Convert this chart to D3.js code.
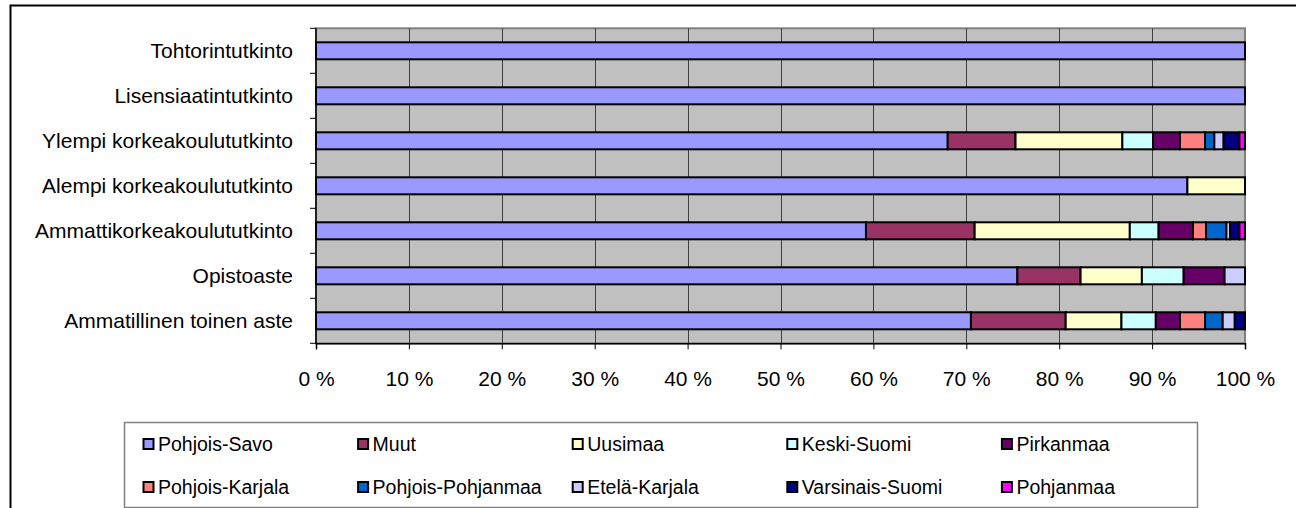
<!DOCTYPE html>
<html>
<head>
<meta charset="utf-8">
<script src="https://cdn.jsdelivr.net/npm/d3@7"></script>
<style>
  body { margin: 0; background: #fff; }
  svg { display: block; font-family: Arial, "Liberation Sans", sans-serif; }
</style>
</head>
<body>
<div id="vis"></div>
<script>
// categories, top to bottom
var categories = [
  'Tohtorintutkinto',
  'Lisensiaatintutkinto',
  'Ylempi korkeakoulututkinto',
  'Alempi korkeakoulututkinto',
  'Ammattikorkeakoulututkinto',
  'Opistoaste',
  'Ammatillinen toinen aste'
];

var seriesNames = ['Pohjois-Savo', 'Muut', 'Uusimaa', 'Keski-Suomi', 'Pirkanmaa',
  'Pohjois-Karjala', 'Pohjois-Pohjanmaa', 'Etelä-Karjala', 'Varsinais-Suomi', 'Pohjanmaa'];

var seriesColors = ['#9999ff', '#993366', '#ffffcc', '#ccffff', '#660066',
  '#ff8080', '#0066cc', '#ccccff', '#000080', '#ff00ff'];

// share (%) per region, same order as seriesNames
var tohtori      = [100, 0, 0, 0, 0, 0, 0, 0, 0, 0];
var lisensiaatti = [100, 0, 0, 0, 0, 0, 0, 0, 0, 0];
var ylempi       = [68.0, 7.3, 11.5, 3.3, 2.9, 2.7, 1.0, 1.0, 1.7, 0.6];
var alempi       = [93.8, 0, 6.2, 0, 0, 0, 0, 0, 0, 0];
var amk          = [59.2, 11.7, 16.7, 3.1, 3.7, 1.4, 2.2, 0.4, 1.0, 0.6];
var opisto       = [75.5, 6.8, 6.6, 4.5, 4.4, 0, 0, 2.2, 0, 0];
var ammatillinen = [70.5, 10.2, 6.0, 3.7, 2.6, 2.7, 1.9, 1.3, 1.1, 0];

var rowValues = [tohtori, lisensiaatti, ylempi, alempi, amk, opisto, ammatillinen];

var xTicks = [0, 10, 20, 30, 40, 50, 60, 70, 80, 90, 100];

var width = 1296;
var height = 508;
var fontSize = 21;
var legendFontSize = 19.5;

var plot = { left: 316, right: 1245, top: 28.3, bottom: 343.3 };

var svg = d3.select('#vis').append('svg')
  .attr('width', width)
  .attr('height', height);

// outer chart frame (runs past the window on the right and bottom)
svg.append('rect')
  .attr('x', 10.5).attr('y', 5.5)
  .attr('width', 1400).attr('height', 600)
  .attr('fill', '#fff')
  .attr('stroke', '#000')
  .attr('stroke-width', 2);

var table = rowValues.map(function (vals, i) {
  var row = { category: categories[i] };
  seriesNames.forEach(function (s, j) { row[s] = vals[j]; });
  return row;
});

var stack = d3.stack()
  .keys(seriesNames)
  .offset(d3.stackOffsetExpand);
var layers = stack(table);

var x = d3.scaleLinear()
  .domain([0, 1])
  .range([plot.left, plot.right]);

var y = d3.scaleBand()
  .domain(categories)
  .range([plot.top, plot.bottom])
  .paddingInner(0.622)
  .paddingOuter(0.311);

var yOuter = d3.scaleBand()
  .domain(categories)
  .range([plot.top, plot.bottom]);

// plot background
svg.append('rect')
  .attr('x', plot.left).attr('y', plot.top)
  .attr('width', plot.right - plot.left)
  .attr('height', plot.bottom - plot.top)
  .attr('fill', '#c0c0c0')
  .attr('stroke', '#808080')
  .attr('stroke-width', 2);

// vertical gridlines
svg.append('g')
  .selectAll('line')
  .data(xTicks.slice(1, -1))
  .enter().append('line')
  .attr('x1', function (d) { return Math.round(x(d / 100)) + 0.5; })
  .attr('x2', function (d) { return Math.round(x(d / 100)) + 0.5; })
  .attr('y1', plot.top)
  .attr('y2', plot.bottom)
  .attr('stroke', '#404040')
  .attr('stroke-width', 1);

// stacked bars
var groups = svg.append('g')
  .selectAll('g')
  .data(layers)
  .enter().append('g')
  .attr('fill', function (d, i) { return seriesColors[i]; });

groups.selectAll('rect')
  .data(function (d) { return d.filter(function (p) { return p[1] - p[0] > 0; }); })
  .enter().append('rect')
  .attr('x', function (d) { return x(d[0]); })
  .attr('width', function (d) { return x(d[1]) - x(d[0]); })
  .attr('y', function (d) { return y(d.data.category); })
  .attr('height', y.bandwidth())
  .attr('stroke', '#000')
  .attr('stroke-width', 2);

// x axis
var xAxis = d3.axisBottom(x)
  .tickValues(xTicks.map(function (d) { return d / 100; }))
  .tickFormat(function (d) { return Math.round(d * 100) + ' %'; })
  .tickSize(6)
  .tickPadding(22);

var gx = svg.append('g')
  .attr('transform', 'translate(0,' + plot.bottom + ')')
  .call(xAxis);
gx.select('.domain').attr('stroke', '#000').attr('stroke-width', 1.5);
gx.selectAll('.tick line').attr('stroke', '#000');
gx.selectAll('text')
  .attr('fill', '#000')
  .style('font-size', fontSize + 'px')
  .style('font-family', 'Arial, "Liberation Sans", sans-serif');

// y axis line and category ticks at band edges
var edges = categories.map(function (c) { return yOuter(c); }).concat([plot.bottom]);
svg.append('line')
  .attr('x1', plot.left).attr('x2', plot.left)
  .attr('y1', plot.top).attr('y2', plot.bottom)
  .attr('stroke', '#000').attr('stroke-width', 1.5);
svg.append('g')
  .selectAll('line')
  .data(edges)
  .enter().append('line')
  .attr('x1', plot.left - 6).attr('x2', plot.left)
  .attr('y1', function (d) { return d; })
  .attr('y2', function (d) { return d; })
  .attr('stroke', '#000');

svg.append('g')
  .selectAll('text')
  .data(categories)
  .enter().append('text')
  .attr('x', 293)
  .attr('y', function (d) { return yOuter(d) + yOuter.bandwidth() / 2 + fontSize * 0.35; })
  .attr('text-anchor', 'end')
  .style('font-size', fontSize + 'px')
  .text(function (d) { return d; });

// legend
var legend = { left: 124, top: 422, right: 1197, bottom: 507, col: 214.6 };
svg.append('rect')
  .attr('x', legend.left + 0.5).attr('y', legend.top + 0.5)
  .attr('width', legend.right - legend.left)
  .attr('height', legend.bottom - legend.top)
  .attr('fill', '#fff')
  .attr('stroke', '#808080')
  .attr('stroke-width', 1.5);

var items = svg.append('g')
  .selectAll('g')
  .data(seriesNames)
  .enter().append('g')
  .attr('transform', function (d, i) {
    var cx = legend.left + 19 + (i % 5) * legend.col;
    var cy = i < 5 ? 444 : 487;
    return 'translate(' + cx + ',' + cy + ')';
  });

items.append('rect')
  .attr('x', 0.5).attr('y', -5)
  .attr('width', 10).attr('height', 10)
  .attr('fill', function (d, i) { return seriesColors[i]; })
  .attr('stroke', '#000')
  .attr('stroke-width', 2);

items.append('text')
  .attr('x', 15)
  .attr('y', legendFontSize * 0.36)
  .style('font-size', legendFontSize + 'px')
  .text(function (d) { return d; });
</script>
</body>
</html>
